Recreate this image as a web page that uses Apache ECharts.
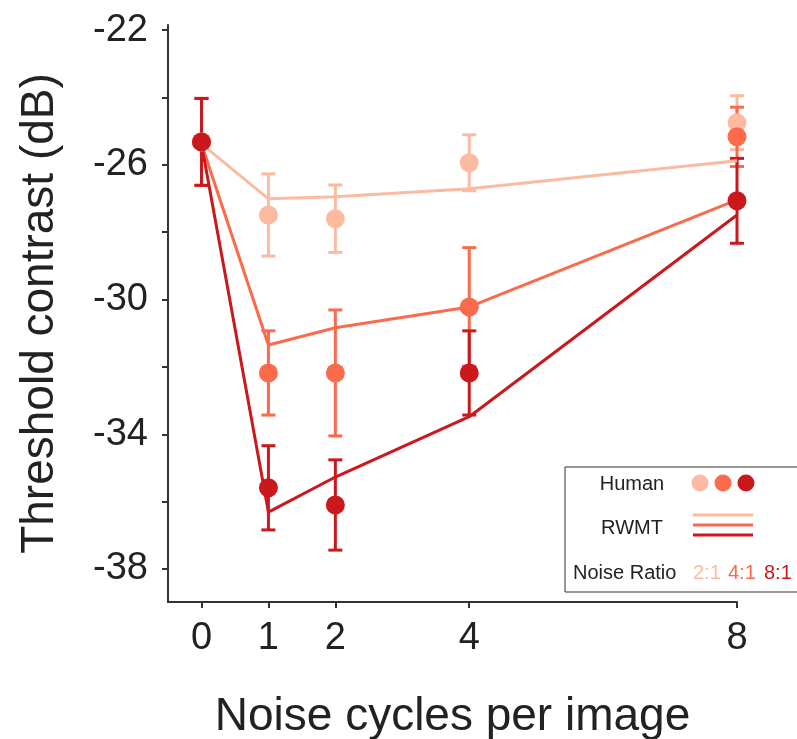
<!DOCTYPE html>
<html>
<head>
<meta charset="utf-8">
<script src="https://cdn.jsdelivr.net/npm/echarts@6/dist/echarts.min.js"></script>
<style>html,body{margin:0;padding:0;background:#fff}#chart{width:797px;height:739px}</style>
</head>
<body>
<div id="chart"></div>
<script>
var cycles = [0, 1, 2, 4, 8];
var ratios = ['2:1', '4:1', '8:1'];
var colors = ['#fcbba1', '#fb6a4a', '#cb181d'];

// human thresholds (dB) + error half widths
var human21 = [-25.32, -27.49, -27.6, -25.94, -24.75];
var human41 = [-25.32, -32.18, -32.18, -30.22, -25.17];
var human81 = [-25.32, -35.59, -36.1, -32.18, -27.07];
var err21 = [1.29, 1.22, 1.0, 0.83, 0.8];
var err41 = [1.29, 1.25, 1.87, 1.76, 0.88];
var err81 = [1.29, 1.25, 1.34, 1.25, 1.26];

// model (RWMT)
var rwmt21 = [-25.38, -27.01, -26.95, -26.71, -25.88];
var rwmt41 = [-25.38, -31.35, -30.84, -30.22, -27.04];
var rwmt81 = [-25.38, -36.31, -35.27, -33.48, -27.49];

var yTicks = [-38, -36, -34, -32, -30, -28, -26, -24, -22];
var yLabels = [-38, -34, -30, -26, -22];

var humans = [human21, human41, human81];
var errs = [err21, err41, err81];
var models = [rwmt21, rwmt41, rwmt81];

var chart = echarts.init(document.getElementById('chart'));
var font = '"Liberation Sans", Arial, Helvetica, sans-serif';

function errorSeries(vals, err, color) {
    var d = cycles.map(function (c, k) {
        return [c, vals[k] - err[k], vals[k] + err[k]];
    });
    return {
        type: 'custom',
        data: d,
        encode: {x: 0, y: [1, 2]},
        z: 2,
        renderItem: function (params, api) {
            var lo = api.coord([api.value(0), api.value(1)]);
            var hi = api.coord([api.value(0), api.value(2)]);
            var w = 7;
            var st = {stroke: color, lineWidth: 3};
            return {
                type: 'group',
                children: [
                    {type: 'line', shape: {x1: lo[0], y1: lo[1], x2: hi[0], y2: hi[1]}, style: st},
                    {type: 'line', shape: {x1: lo[0] - w, y1: lo[1], x2: lo[0] + w, y2: lo[1]}, style: st},
                    {type: 'line', shape: {x1: hi[0] - w, y1: hi[1], x2: hi[0] + w, y2: hi[1]}, style: st}
                ]
            };
        }
    };
}

var series = [];
for (var i = 0; i < 3; i++) {
    series.push(errorSeries(humans[i], errs[i], colors[i]));
    series.push({
        type: 'scatter',
        name: 'Human ' + ratios[i],
        data: cycles.map(function (c, k) { return [c, humans[i][k]]; }),
        symbol: 'circle',
        symbolSize: 19,
        itemStyle: {color: colors[i], opacity: 1},
        z: 2
    });
}
for (var j = 0; j < 3; j++) {
    series.push({
        type: 'line',
        name: 'RWMT ' + ratios[j],
        data: cycles.map(function (c, k) { return [c, models[j][k]]; }),
        symbol: 'none',
        lineStyle: {color: colors[j], width: 3},
        z: 2
    });
}

// legend box drawn by hand
var lx = 565, ly = 467;
var lf = '20px ' + font;
var legend = [
    {type: 'rect', shape: {x: lx, y: ly, width: 240, height: 125},
        style: {fill: '#fff', stroke: '#333', lineWidth: 1}},
    {type: 'text', x: 632, y: 484, style: {text: 'Human', font: lf, fill: '#222', align: 'center', verticalAlign: 'middle'}},
    {type: 'circle', shape: {cx: 700, cy: 483, r: 8.5}, style: {fill: colors[0]}},
    {type: 'circle', shape: {cx: 723, cy: 483, r: 8.5}, style: {fill: colors[1]}},
    {type: 'circle', shape: {cx: 746, cy: 483, r: 8.5}, style: {fill: colors[2]}},
    {type: 'text', x: 632, y: 528, style: {text: 'RWMT', font: lf, fill: '#222', align: 'center', verticalAlign: 'middle'}},
    {type: 'line', shape: {x1: 693, y1: 515, x2: 753, y2: 515}, style: {stroke: colors[0], lineWidth: 3}},
    {type: 'line', shape: {x1: 693, y1: 525, x2: 753, y2: 525}, style: {stroke: colors[1], lineWidth: 3}},
    {type: 'line', shape: {x1: 693, y1: 535, x2: 753, y2: 535}, style: {stroke: colors[2], lineWidth: 3}},
    {type: 'text', x: 573, y: 573, style: {text: 'Noise Ratio', font: lf, fill: '#222', verticalAlign: 'middle'}},
    {type: 'text', x: 693, y: 573, style: {text: ratios[0], font: lf, fill: colors[0], verticalAlign: 'middle'}},
    {type: 'text', x: 728, y: 573, style: {text: ratios[1], font: lf, fill: colors[1], verticalAlign: 'middle'}},
    {type: 'text', x: 764, y: 573, style: {text: ratios[2], font: lf, fill: colors[2], verticalAlign: 'middle'}}
];

var option = {
    animation: false,
    backgroundColor: '#fff',
    textStyle: {fontFamily: font},
    grid: {left: 168, right: 60, top: 25, bottom: 137, outerBoundsMode: 'none'},
    xAxis: {
        type: 'value',
        min: -0.5, max: 8,
        name: 'Noise cycles per image',
        nameLocation: 'middle',
        nameGap: 92,
        nameTextStyle: {fontSize: 46, color: '#222', fontFamily: font},
        axisLine: {show: true, onZero: false, lineStyle: {color: '#333', width: 2}},
        axisTick: {show: true, inside: false, length: 6, customValues: cycles, lineStyle: {color: '#333', width: 2}},
        axisLabel: {customValues: cycles, fontSize: 38, color: '#222', margin: 18, fontFamily: font},
        splitLine: {show: false}
    },
    yAxis: {
        type: 'value',
        min: -38.98, max: -21.85,
        name: 'Threshold contrast (dB)',
        nameLocation: 'middle',
        nameGap: 105,
        nameTextStyle: {fontSize: 46, color: '#222', fontFamily: font},
        axisLine: {show: true, onZero: false, lineStyle: {color: '#333', width: 2}},
        axisTick: {show: true, inside: false, length: 6, customValues: yTicks, lineStyle: {color: '#333', width: 2}},
        axisLabel: {customValues: yLabels, fontSize: 38, color: '#222', margin: 20, fontFamily: font},
        splitLine: {show: false}
    },
    graphic: legend,
    series: series
};
chart.setOption(option);
</script>
</body>
</html>
